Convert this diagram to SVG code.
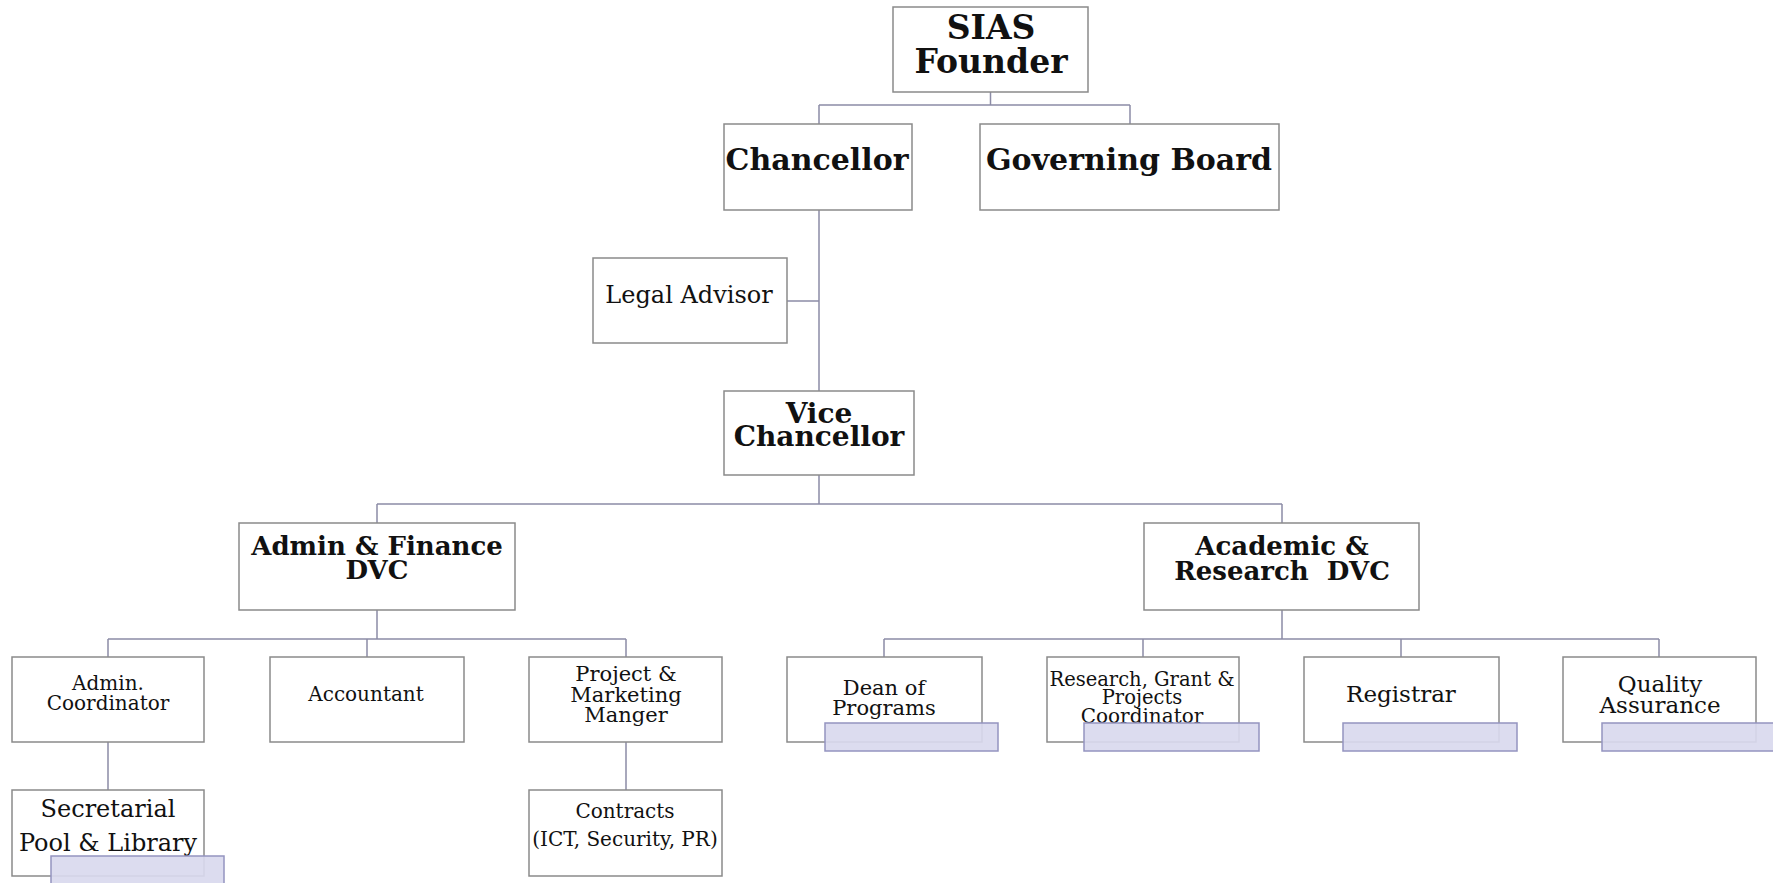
<svg xmlns="http://www.w3.org/2000/svg" width="1773" height="883" viewBox="0 0 1773 883">
<style>
.box{fill:#ffffff;stroke:#8a8a8a;stroke-width:1.5}
.conn{fill:none;stroke:#8c8ca6;stroke-width:1.5}
.blue{fill:#d9d9ee;fill-opacity:0.92;stroke:#9494c0;stroke-width:1.5}
.tb{font-family:"DejaVu Serif","Liberation Serif",serif;font-weight:bold;fill:#111;text-anchor:middle}
.tr{font-family:"DejaVu Serif","Liberation Serif",serif;fill:#111;text-anchor:middle}
</style>
<rect x="0" y="0" width="1773" height="883" fill="#ffffff"/>
<g id="connectors">
<path class="conn" d="M990.5 92 V105 M819 105 H1130 M819 105 V124 M1130 105 V124"/>
<path class="conn" d="M819 210 V391 M787 301 H819"/>
<path class="conn" d="M819 475 V504 M377 504 H1282 M377 504 V523 M1282 504 V523"/>
<path class="conn" d="M377 610 V639 M108 639 H626 M108 639 V657 M367 639 V657 M626 639 V657"/>
<path class="conn" d="M1282 610 V639 M884 639 H1659 M884 639 V657 M1143 639 V657 M1401 639 V657 M1659 639 V657"/>
<path class="conn" d="M108 742 V791 M626 742 V791"/>
</g>
<g id="founder">
<rect class="box" x="893" y="7" width="195" height="85"/>
<text class="tb" x="991" y="39" font-size="33">SIAS</text>
<text class="tb" x="991" y="73" font-size="33">Founder</text>
</g>
<g id="chancellor">
<rect class="box" x="724" y="124" width="188" height="86"/>
<text class="tb" x="817" y="170" font-size="30">Chancellor</text>
</g>
<g id="governing-board">
<rect class="box" x="980" y="124" width="299" height="86"/>
<text class="tb" x="1129" y="170" font-size="30">Governing Board</text>
</g>
<g id="legal-advisor">
<rect class="box" x="593" y="258" width="194" height="85"/>
<text class="tr" x="689" y="303" font-size="24">Legal Advisor</text>
</g>
<g id="vice-chancellor">
<rect class="box" x="724" y="391" width="190" height="84"/>
<text class="tb" x="819" y="423" font-size="28">Vice</text>
<text class="tb" x="819" y="446" font-size="28">Chancellor</text>
</g>
<g id="admin-finance-dvc">
<rect class="box" x="239" y="523" width="276" height="87"/>
<text class="tb" x="377" y="555" font-size="26">Admin &amp; Finance</text>
<text class="tb" x="377" y="579" font-size="26">DVC</text>
</g>
<g id="academic-research-dvc">
<rect class="box" x="1144" y="523" width="275" height="87"/>
<text class="tb" x="1282" y="555" font-size="26">Academic &amp;</text>
<text class="tb" x="1282" y="580" font-size="26" xml:space="preserve">Research  DVC</text>
</g>
<g id="admin-coordinator">
<rect class="box" x="12" y="657" width="192" height="85"/>
<text class="tr" x="108" y="690" font-size="20">Admin.</text>
<text class="tr" x="108" y="710" font-size="20">Coordinator</text>
</g>
<g id="accountant">
<rect class="box" x="270" y="657" width="194" height="85"/>
<text class="tr" x="366" y="701" font-size="20">Accountant</text>
</g>
<g id="project-marketing">
<rect class="box" x="529" y="657" width="193" height="85"/>
<text class="tr" x="626" y="681" font-size="21">Project &amp;</text>
<text class="tr" x="626" y="702" font-size="21">Marketing</text>
<text class="tr" x="626" y="722" font-size="21">Manger</text>
</g>
<g id="secretarial">
<rect class="box" x="12" y="790" width="192" height="86"/>
<text class="tr" x="108" y="817" font-size="24">Secretarial</text>
<text class="tr" x="108" y="851" font-size="24">Pool &amp; Library</text>
<rect class="blue" x="51" y="856" width="173" height="28"/>
</g>
<g id="contracts">
<rect class="box" x="529" y="790" width="193" height="86"/>
<text class="tr" x="625" y="818" font-size="20">Contracts</text>
<text class="tr" x="625" y="846" font-size="20">(ICT, Security, PR)</text>
</g>
<g id="dean-of-programs">
<rect class="box" x="787" y="657" width="195" height="85"/>
<text class="tr" x="884" y="695" font-size="21">Dean of</text>
<text class="tr" x="884" y="715" font-size="21">Programs</text>
<rect class="blue" x="825" y="723" width="173" height="28"/>
</g>
<g id="research-grant">
<rect class="box" x="1047" y="657" width="192" height="85"/>
<text class="tr" x="1142" y="686" font-size="19.5">Research, Grant &amp;</text>
<text class="tr" x="1142" y="704" font-size="19.5">Projects</text>
<text class="tr" x="1142" y="723" font-size="20">Coordinator</text>
<rect class="blue" x="1084" y="723" width="175" height="28"/>
</g>
<g id="registrar">
<rect class="box" x="1304" y="657" width="195" height="85"/>
<text class="tr" x="1401" y="702" font-size="23">Registrar</text>
<rect class="blue" x="1343" y="723" width="174" height="28"/>
</g>
<g id="quality-assurance">
<rect class="box" x="1563" y="657" width="193" height="85"/>
<text class="tr" x="1660" y="692" font-size="23">Quality</text>
<text class="tr" x="1660" y="713" font-size="23">Assurance</text>
<rect class="blue" x="1602" y="723" width="174" height="28"/>
</g>
</svg>
